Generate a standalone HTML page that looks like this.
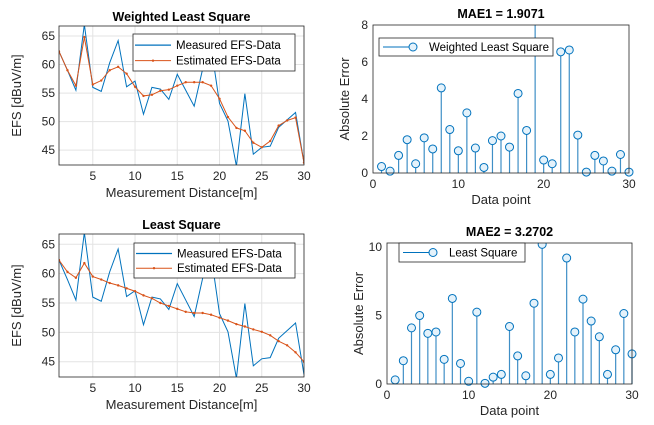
<!DOCTYPE html>
<html><head><meta charset="utf-8"><style>
html,body{margin:0;padding:0;background:#fff;width:654px;height:425px;overflow:hidden}
svg{font-family:"Liberation Sans",sans-serif;display:block}
</style></head><body>
<svg id="fig" width="654" height="425" viewBox="0 0 654 425" xmlns="http://www.w3.org/2000/svg"></svg>
<script>
const distances = [1,2,3,4,5,6,7,8,9,10,11,12,13,14,15,16,17,18,19,20,21,22,23,24,25,26,27,28,29,30];
const measured = [62.3,59.0,55.5,67.0,56.0,55.3,60.3,64.2,56.1,57.1,51.3,56.0,55.7,53.9,58.3,55.5,52.7,59.2,63.2,53.2,50.1,42.2,54.9,44.3,45.5,45.7,49.0,50.3,51.6,42.8];
const wlsEstimate = [62.3,59.0,56.3,64.8,56.5,57.2,59.0,59.6,58.4,56.1,54.5,54.7,55.4,55.6,56.3,56.9,56.9,56.9,56.3,54.0,50.8,48.9,48.4,46.3,45.5,46.6,49.3,50.2,50.7,42.8];
const lsEstimate = [62.3,60.3,59.3,61.8,59.5,59.0,58.4,58.0,57.5,57.0,56.3,55.8,55.0,54.5,54.0,53.5,53.3,53.3,53.0,52.5,52.0,51.4,51.0,50.5,50.1,49.5,48.5,47.8,46.6,45.0];
const wlsError = [0.35,0.1,0.95,1.8,0.5,1.9,1.3,4.6,2.35,1.2,3.25,1.35,0.3,1.75,2.0,1.4,4.3,2.3,9.0,0.7,0.5,6.55,6.65,2.05,0.05,0.95,0.65,0.1,1.0,0.05];
const lsError = [0.3,1.7,4.1,5.0,3.7,3.8,1.8,6.25,1.5,0.2,5.25,0.05,0.5,0.7,4.2,2.05,0.6,5.9,10.2,0.7,1.9,9.2,3.8,6.2,4.6,3.45,0.7,2.5,5.15,2.2];
const efsTicks = [45,50,55,60,65];
const distTicks = [5,10,15,20,25,30];
const errTicks1 = [0,2,4,6,8];
const errTicks2 = [0,5,10];
const pointTicks = [0,10,20,30];

const NS="http://www.w3.org/2000/svg";
const svg=document.getElementById('fig');
function el(tag,attrs,parent,text){const e=document.createElementNS(NS,tag);for(const k in attrs)e.setAttribute(k,attrs[k]);if(text!==undefined)e.textContent=text;(parent||svg).appendChild(e);return e;}
const BLUE="#0072BD",ORANGE="#D95319";

function lineChart(name,box,title,est,legendBox){
  const g=el('g',{});
  
  
  const xmin=1,xmax=30,ymin=42.4,ymax=66.75;
  const sx=v=>box.x0+(v-xmin)/(xmax-xmin)*(box.x1-box.x0);
  const sy=v=>box.y1-(v-ymin)/(ymax-ymin)*(box.y1-box.y0);
  el('rect',{x:box.x0,y:box.y0,width:box.x1-box.x0,height:box.y1-box.y0,fill:'#fff'},g);
  const grid=el('g',{stroke:'#e3e3e3','stroke-width':1},g);
  
  
  efsTicks.forEach(t=>{el('line',{x1:box.x0,x2:box.x1,y1:sy(t),y2:sy(t)},grid);
    const tl=el('text',{x:box.x0-4,y:sy(t)+4,'text-anchor':'end','font-size':12,fill:'#262626'},g,String(t));
    
    });
  distTicks.forEach(t=>{el('line',{x1:sx(t),x2:sx(t),y1:box.y0,y2:box.y1},grid);
    const tl=el('text',{x:sx(t),y:box.y1+15,'text-anchor':'middle','font-size':12,fill:'#262626'},g,String(t));
    
    });
  const clipId=name+'-clip';
  const cp=el('clipPath',{id:clipId},g);el('rect',{x:box.x0,y:box.y0,width:box.x1-box.x0,height:box.y1-box.y0},cp);
  const pts=a=>a.map((v,i)=>sx(distances[i])+','+sy(v)).join(' ');
  const m=el('polyline',{points:pts(measured),fill:'none',stroke:BLUE,'stroke-width':1,'clip-path':'url(#'+clipId+')'},g);
  
  
  const e=el('polyline',{points:pts(est),fill:'none',stroke:ORANGE,'stroke-width':1,'clip-path':'url(#'+clipId+')'},g);
  
  
  est.forEach((v,i)=>{const d=el('circle',{cx:sx(distances[i]),cy:sy(v),r:1.2,fill:ORANGE,'clip-path':'url(#'+clipId+')'},g);
    
    });
  el('rect',{x:box.x0,y:box.y0,width:box.x1-box.x0,height:box.y1-box.y0,fill:'none',stroke:'#262626','stroke-width':0.8},g);
  const tt=el('text',{x:(box.x0+box.x1)/2,y:box.y0-5,'text-anchor':'middle','font-size':12.5,'font-weight':'bold',fill:'#000'},g,title);
  
  
  const xl=el('text',{x:(box.x0+box.x1)/2,y:box.y1+32,'text-anchor':'middle','font-size':13,fill:'#262626'},g,'Measurement Distance[m]');
  
  
  const cy=(box.y0+box.y1)/2;
  const yl=el('text',{x:21,y:cy,'text-anchor':'middle','font-size':13,fill:'#262626',transform:'rotate(-90 21 '+cy+')'},g,'EFS [dBuV/m]');
  
  
  const lg=el('g',{},g);
  
  
  const L=legendBox;
  el('rect',{x:L.x,y:L.y,width:L.w,height:L.h,fill:'#fff',stroke:'#262626','stroke-width':0.8},lg);
  const r1=L.y+L.h*0.3,r2=L.y+L.h*0.72;
  el('line',{x1:L.x+2,x2:L.x+38,y1:r1,y2:r1,stroke:BLUE,'stroke-width':1.2},lg);
  el('text',{x:L.x+43,y:r1+4,'font-size':11.5,fill:'#000'},lg,'Measured EFS-Data');
  el('line',{x1:L.x+2,x2:L.x+38,y1:r2,y2:r2,stroke:ORANGE,'stroke-width':1},lg);
  el('circle',{cx:L.x+20,cy:r2,r:1.2,fill:ORANGE},lg);
  el('text',{x:L.x+43,y:r2+4,'font-size':11.5,fill:'#000'},lg,'Estimated EFS-Data');
}

function stemChart(name,box,title,errs,ymax,ticks,legendText,legendBox){
  const g=el('g',{});
  
  
  const sx=v=>box.x0+v/30*(box.x1-box.x0);
  const sy=v=>box.y1-v/ymax*(box.y1-box.y0);
  const clipId=name+'-clip';
  const cp=el('clipPath',{id:clipId},g);el('rect',{x:box.x0-6,y:box.y0,width:box.x1-box.x0+12,height:box.y1-box.y0+6},cp);
  ticks.forEach(t=>{const tl=el('text',{x:box.x0-5,y:sy(t)+4,'text-anchor':'end','font-size':12,fill:'#262626'},g,String(t));
    
    });
  pointTicks.forEach(t=>{const tl=el('text',{x:sx(t),y:box.y1+15,'text-anchor':'middle','font-size':12,fill:'#262626'},g,String(t));
    
    });
  errs.forEach((v,i)=>{
    const x=sx(distances[i]);
    const s=el('line',{x1:x,x2:x,y1:box.y1,y2:sy(v),stroke:'#3f8fc6','stroke-width':1.2,'clip-path':'url(#'+clipId+')'},g);
    
    
    const c=el('circle',{cx:x,cy:sy(v),r:4,fill:'#e4f2fb',stroke:BLUE,'stroke-width':1,'clip-path':'url(#'+clipId+')'},g);
    
    
  });
  el('rect',{x:box.x0,y:box.y0,width:box.x1-box.x0,height:box.y1-box.y0,fill:'none',stroke:'#262626','stroke-width':0.8},g);
  const tt=el('text',{x:(box.x0+box.x1)/2,y:box.y0-7,'text-anchor':'middle','font-size':12.5,'font-weight':'bold',fill:'#000'},g,title);
  
  
  const xl=el('text',{x:(box.x0+box.x1)/2,y:box.y1+31,'text-anchor':'middle','font-size':13,fill:'#262626'},g,'Data point');
  
  
  const cy=(box.y0+box.y1)/2, lx=box.x0-24;
  const yl=el('text',{x:lx,y:cy,'text-anchor':'middle','font-size':13,fill:'#262626',transform:'rotate(-90 '+lx+' '+cy+')'},g,'Absolute Error');
  
  
  const lg=el('g',{},g);
  
  
  const L=legendBox;
  el('rect',{x:L.x,y:L.y,width:L.w,height:L.h,fill:'#fff',stroke:'#262626','stroke-width':0.8},lg);
  const r=L.y+L.h/2;
  el('line',{x1:L.x+4,x2:L.x+34,y1:r,y2:r,stroke:BLUE,'stroke-width':1},lg);
  el('circle',{cx:L.x+34,cy:r,r:4,fill:'#e4f2fb',stroke:BLUE},lg);
  el('text',{x:L.x+50,y:r+4,'font-size':11.5,fill:'#000'},lg,legendText);
}

lineChart('wls-efs-chart',{x0:59,x1:304,y0:26,y1:165},'Weighted Least Square',wlsEstimate,{x:133,y:34,w:162,h:37});
lineChart('ls-efs-chart',{x0:59,x1:304,y0:234,y1:377},'Least Square',lsEstimate,{x:134,y:243,w:161,h:35});
stemChart('wls-error-chart',{x0:373,x1:629,y0:25,y1:173},'MAE1 = 1.9071',wlsError,8,errTicks1,'Weighted Least Square',{x:379,y:38,w:174,h:18});
stemChart('ls-error-chart',{x0:387,x1:632,y0:243,y1:384},'MAE2 = 3.2702',lsError,10.3,errTicks2,'Least Square',{x:399,y:243,w:126,h:19});
</script>
</body></html>
